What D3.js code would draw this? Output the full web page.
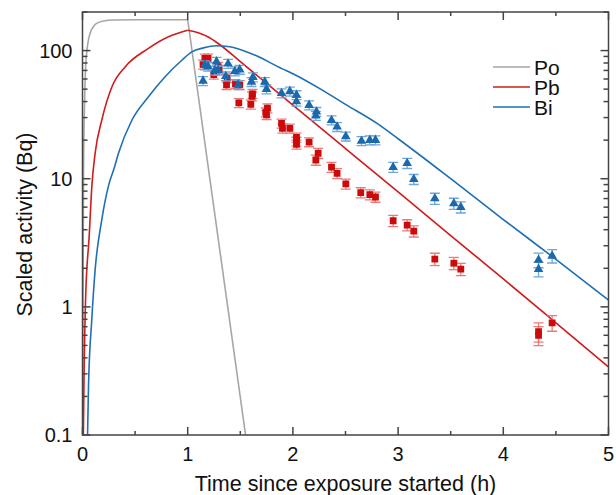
<!DOCTYPE html>
<html>
<head>
<meta charset="utf-8">
<script src="https://cdnjs.cloudflare.com/ajax/libs/d3/7.8.5/d3.min.js"></script>
<style>
    body { margin: 0; background: #fff; }
    text { font-family: "Liberation Sans", Arial, sans-serif; fill: #111; }
</style>
</head>
<body>
<div id="chart"></div>
<script>
    // curves (model); rise and decay kept apart so the kink at t=1 stays sharp
    var poRiseT = [0, 0.01, 0.02, 0.03, 0.045, 0.06, 0.08, 0.1, 0.13, 0.2, 0.3, 0.5, 1.0];
    var poRiseV = [0.1, 12, 40, 75, 105, 125, 142, 152, 162, 170, 173, 174, 174];
    var poDecayT = [1.0, 1.55];
    var poDecayV = [174, 0.1];

    var pbRiseT = [0.008, 0.015, 0.03, 0.063, 0.09, 0.12, 0.183, 0.279, 0.405, 0.627, 0.817, 1.0];
    var pbRiseV = [0.1, 0.3, 1.2, 3.5, 9, 15.8, 28.6, 52, 74.6, 104, 128, 144];
    var pbDecayT = [1.0, 1.1, 1.2, 1.3, 1.5, 2.0, 2.5, 3.0, 3.5, 4.0, 4.5, 5.0];
    var pbDecayV = [144, 138, 127, 112, 82, 37.5, 17.2, 7.9, 3.6, 1.65, 0.75, 0.34];

    var biT = [0.048, 0.057, 0.088, 0.12, 0.183, 0.25, 0.3, 0.342, 0.469, 0.627, 0.785, 0.944, 1.039, 1.15, 1.27, 1.4, 1.6, 1.9, 2.0, 2.3, 2.5, 2.8, 3.0, 3.5, 4.0, 4.5, 5.0];
    var biV = [0.1, 0.24, 0.79, 1.94, 4.77, 9, 12, 15.8, 28.6, 43.6, 62.4, 84, 97.7, 105, 109, 107, 95, 72, 66, 48, 38, 27, 20.5, 10, 4.8, 2.35, 1.13];

    // measurements
    var pbDataT = [1.146, 1.163, 1.194, 1.248, 1.29, 1.299, 1.369, 1.375, 1.454, 1.495, 1.486, 1.60, 1.612, 1.616, 1.742, 1.758, 1.749, 1.892, 1.901, 1.971, 2.034, 2.034, 2.034, 2.154, 2.218, 2.24, 2.367, 2.42, 2.503, 2.645, 2.731, 2.785, 2.953, 3.086, 3.149, 3.349, 3.53, 3.596, 4.335, 4.335, 4.464];
    var pbDataV = [78, 87, 87, 65, 75, 71, 54, 61, 55, 54, 39, 38, 44, 46, 33, 35.5, 31.5, 27, 24.7, 24.7, 21, 19.5, 18.5, 19.3, 14, 15.8, 12.3, 11, 9.1, 7.8, 7.5, 7.2, 4.7, 4.35, 3.9, 2.36, 2.19, 1.97, 0.64, 0.6, 0.75];
    var pbDataErr = [0.08, 0.08, 0.08, 0.08, 0.08, 0.08, 0.08, 0.08, 0.08, 0.08, 0.08, 0.08, 0.08, 0.08, 0.08, 0.08, 0.08, 0.08, 0.08, 0.08, 0.08, 0.08, 0.08, 0.08, 0.09, 0.09, 0.09, 0.09, 0.09, 0.09, 0.09, 0.09, 0.1, 0.1, 0.1, 0.11, 0.11, 0.11, 0.17, 0.17, 0.14];

    var biDataT = [1.146, 1.163, 1.194, 1.274, 1.257, 1.29, 1.384, 1.362, 1.448, 1.495, 1.48, 1.606, 1.62, 1.733, 1.749, 1.892, 1.971, 2.034, 2.034, 2.154, 2.224, 2.218, 2.367, 2.42, 2.503, 2.652, 2.731, 2.785, 2.953, 3.086, 3.149, 3.349, 3.53, 3.596, 4.335, 4.335, 4.464];
    var biDataV = [58, 77, 75, 82, 70, 70, 79, 63, 69, 71, 54, 57, 62, 57, 50, 46.5, 48, 45, 40, 37.5, 33.3, 31, 28.6, 25.4, 21.4, 19.7, 20, 20, 12.3, 13.2, 9.9, 7.0, 6.4, 6.0, 2.32, 1.97, 2.5];
    var biDataErr = [0.08, 0.08, 0.08, 0.08, 0.08, 0.08, 0.08, 0.08, 0.08, 0.08, 0.08, 0.08, 0.08, 0.08, 0.08, 0.08, 0.08, 0.08, 0.08, 0.08, 0.08, 0.08, 0.08, 0.08, 0.08, 0.08, 0.08, 0.08, 0.09, 0.09, 0.09, 0.1, 0.1, 0.1, 0.13, 0.13, 0.12];

    var xTicks = [0, 1, 2, 3, 4, 5];
    var yTicks = [0.1, 1, 10, 100];
    var yTickLabels = ['0.1', '1', '10', '100'];
    var legendNames = ['Po', 'Pb', 'Bi'];

    var config = {
        width: 616,
        height: 495,
        margin: { top: 12, right: 7.5, bottom: 60, left: 82.5 },
        colors: { Po: '#a6a6a6', Pb: '#d01c1c', Bi: '#1f6fb4' }
    };

    function pairs(t, v) {
        return t.map(function (d, i) { return { t: d, v: v[i] }; });
    }

    function drawGraph() {
        var margin = config.margin;
        var w = config.width - margin.left - margin.right;
        var h = config.height - margin.top - margin.bottom;

        var svg = d3.select('#chart').append('svg')
            .attr('width', config.width)
            .attr('height', config.height);

        var g = svg.append('g')
            .attr('transform', 'translate(' + margin.left + ',' + margin.top + ')');

        var x = d3.scaleLinear().domain([0, 5]).range([0, w]);
        var y = d3.scaleLog().domain([0.1, 200]).range([h, 0]);

        g.append('clipPath').attr('id', 'clip')
            .append('rect').attr('width', w).attr('height', h);

        var plot = g.append('g').attr('clip-path', 'url(#clip)');

        var smooth = d3.line()
            .curve(d3.curveMonotoneX)
            .x(function (d) { return x(d.t); })
            .y(function (d) { return y(d.v); });

        var straight = d3.line()
            .x(function (d) { return x(d.t); })
            .y(function (d) { return y(d.v); });

        var curves = [
            { name: 'Po', data: pairs(poRiseT, poRiseV), gen: smooth },
            { name: 'Po', data: pairs(poDecayT, poDecayV), gen: straight },
            { name: 'Pb', data: pairs(pbRiseT, pbRiseV), gen: smooth },
            { name: 'Pb', data: pairs(pbDecayT, pbDecayV), gen: smooth },
            { name: 'Bi', data: pairs(biT, biV), gen: smooth }
        ];

        plot.selectAll('.curve')
            .data(curves)
            .enter().append('path')
            .attr('class', 'curve')
            .attr('fill', 'none')
            .attr('stroke', function (d) { return config.colors[d.name]; })
            .attr('stroke-width', 1.6)
            .attr('stroke-linejoin', 'round')
            .attr('d', function (d) { return d.gen(d.data); });

        // error bars + markers
        function drawPoints(t, v, err, color, errColor, shape) {
            var pts = t.map(function (d, i) { return { t: d, v: v[i], e: err[i] }; });
            var grp = plot.append('g');
            var bars = grp.selectAll('.err').data(pts).enter().append('g');
            bars.append('line')
                .attr('x1', function (d) { return x(d.t); })
                .attr('x2', function (d) { return x(d.t); })
                .attr('y1', function (d) { return y(d.v * (1 + d.e)); })
                .attr('y2', function (d) { return y(d.v * (1 - d.e)); });
            bars.append('line')
                .attr('x1', function (d) { return x(d.t) - 5; })
                .attr('x2', function (d) { return x(d.t) + 5; })
                .attr('y1', function (d) { return y(d.v * (1 + d.e)); })
                .attr('y2', function (d) { return y(d.v * (1 + d.e)); });
            bars.append('line')
                .attr('x1', function (d) { return x(d.t) - 5; })
                .attr('x2', function (d) { return x(d.t) + 5; })
                .attr('y1', function (d) { return y(d.v * (1 - d.e)); })
                .attr('y2', function (d) { return y(d.v * (1 - d.e)); });
            bars.selectAll('line')
                .attr('stroke', errColor)
                .attr('stroke-width', 1.3);

            grp.selectAll('.mark').data(pts).enter().append('path')
                .attr('transform', function (d) { return 'translate(' + x(d.t) + ',' + y(d.v) + ')'; })
                .attr('d', d3.symbol().type(shape).size(shape === d3.symbolSquare ? 46 : 40))
                .attr('fill', color);
        }

        drawPoints(pbDataT, pbDataV, pbDataErr, '#cc0a0a', '#ea7a7a', d3.symbolSquare);
        drawPoints(biDataT, biDataV, biDataErr, '#1b69ad', '#6ea7d8', d3.symbolTriangle);

        // axes, ticks inward, mirrored
        var axisColor = '#444';
        var frame = g.append('g').attr('class', 'frame');

        var xMinor = d3.range(0.5, 5, 1);
        var yMinor = [];
        [0.1, 1, 10, 100].forEach(function (dec) {
            for (var k = 2; k <= 9; k++) {
                if (dec * k <= 200) yMinor.push(dec * k);
            }
        });

        function tickLines(vals, len, horiz) {
            vals.forEach(function (v) {
                if (horiz) {
                    frame.append('line').attr('x1', x(v)).attr('x2', x(v)).attr('y1', h).attr('y2', h - len);
                    frame.append('line').attr('x1', x(v)).attr('x2', x(v)).attr('y1', 0).attr('y2', len);
                } else {
                    frame.append('line').attr('x1', 0).attr('x2', len).attr('y1', y(v)).attr('y2', y(v));
                    frame.append('line').attr('x1', w).attr('x2', w - len).attr('y1', y(v)).attr('y2', y(v));
                }
            });
        }

        tickLines(xTicks, 8, true);
        tickLines(xMinor, 4, true);
        tickLines(yTicks, 8, false);
        tickLines(yMinor, 5, false);

        frame.append('rect')
            .attr('width', w).attr('height', h)
            .attr('fill', 'none');

        frame.selectAll('line, rect')
            .attr('stroke', axisColor)
            .attr('stroke-width', 1.5);

        g.selectAll('.xlabel')
            .data(xTicks)
            .enter().append('text')
            .attr('x', function (d) { return x(d); })
            .attr('y', h + 26)
            .attr('text-anchor', 'middle')
            .style('font-size', '20px')
            .text(function (d) { return d; });

        g.selectAll('.ylabel')
            .data(yTicks)
            .enter().append('text')
            .attr('x', -10)
            .attr('y', function (d) { return y(d) + 7; })
            .attr('text-anchor', 'end')
            .style('font-size', '20px')
            .text(function (d, i) { return yTickLabels[i]; });

        g.append('text')
            .attr('x', w / 2)
            .attr('y', h + 56)
            .attr('text-anchor', 'middle')
            .style('font-size', '21.5px')
            .text('Time since exposure started (h)');

        g.append('text')
            .attr('transform', 'translate(' + (-margin.left + 32) + ',' + (h / 2 + 1) + ') rotate(-90)')
            .attr('text-anchor', 'middle')
            .style('font-size', '21.5px')
            .text('Scaled activity (Bq)');

        // legend
        var legend = g.append('g')
            .attr('transform', 'translate(' + (493 - margin.left) + ',' + (67 - margin.top) + ')');

        var items = legend.selectAll('.item')
            .data(legendNames)
            .enter().append('g')
            .attr('transform', function (d, i) { return 'translate(0,' + (i * 20) + ')'; });

        items.append('line')
            .attr('x1', 0).attr('x2', 37)
            .attr('stroke', function (d) { return config.colors[d]; })
            .attr('stroke-width', 1.6);

        items.append('text')
            .attr('x', 41)
            .attr('y', 7.5)
            .style('font-size', '21px')
            .text(function (d) { return d; });
    }

    drawGraph();
</script>
</body>
</html>
